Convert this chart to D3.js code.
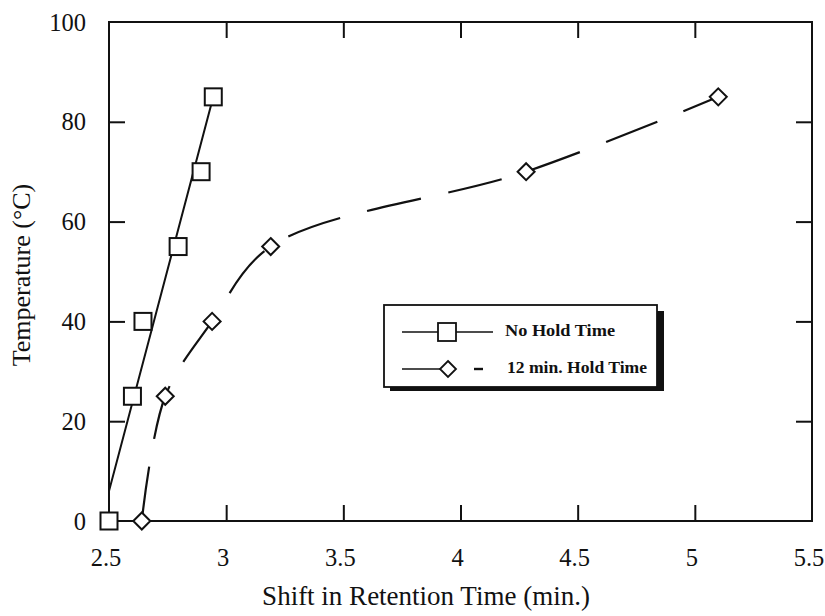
<!DOCTYPE html>
<html>
<head>
<meta charset="utf-8">
<script src="https://cdn.jsdelivr.net/npm/d3@7"></script>
<style>
  html, body { margin: 0; padding: 0; background: #fff; }
  svg text { font-family: "Liberation Serif", "Times New Roman", serif; fill: #111; }
</style>
</head>
<body>
<svg id="chart" width="825" height="616"></svg>
<script>
// Temperature vs. shift in retention time
const noHoldShift   = [2.5, 2.6, 2.645, 2.795, 2.893, 2.945];
const noHoldTemp    = [0, 25, 40, 55, 70, 85];
// straight fitted line drawn through the no-hold points
const noHoldFitShift = [2.5, 2.5, 2.945];
const noHoldFitTemp  = [0, 6, 85];

const holdShift = [2.64, 2.74, 2.94, 3.19, 4.28, 5.1];
const holdTemp  = [0, 25, 40, 55, 70, 85];

const xTickValues = [2.5, 3, 3.5, 4, 4.5, 5, 5.5];
const xTickLabels = ["2.5", "3", "3.5", "4", "4.5", "5", "5.5"];
const yTickValues = [0, 20, 40, 60, 80, 100];
const yTickLabels = ["0", "20", "40", "60", "80", "100"];

const legendLabels = ["No Hold Time", "12 min. Hold Time"];
const xTitle = "Shift in Retention Time (min.)";
const yTitle = "Temperature (\u00B0C)";

const svg = d3.select("#chart");
const m = { left: 109, right: 812, top: 22, bottom: 521 };

const x = d3.scaleLinear().domain([2.5, 5.5]).range([m.left, m.right]);
const y = d3.scaleLinear().domain([0, 100]).range([m.bottom, m.top]);

const ink = "#111";
const tickLen = 16;

// frame
svg.append("rect")
  .attr("x", m.left).attr("y", m.top)
  .attr("width", m.right - m.left).attr("height", m.bottom - m.top)
  .attr("fill", "none").attr("stroke", ink).attr("stroke-width", 2);

// inward ticks on all four sides (interior values only)
const innerX = xTickValues.slice(1, -1);
const innerY = yTickValues.slice(1, -1);
const axisBottom = d3.axisBottom(x).tickValues(innerX).tickSizeInner(-tickLen).tickSizeOuter(0).tickFormat("");
const axisTop = d3.axisTop(x).tickValues(innerX).tickSizeInner(-tickLen).tickSizeOuter(0).tickFormat("");
const axisLeft = d3.axisLeft(y).tickValues(innerY).tickSizeInner(-tickLen).tickSizeOuter(0).tickFormat("");
const axisRight = d3.axisRight(y).tickValues(innerY).tickSizeInner(-tickLen).tickSizeOuter(0).tickFormat("");

function styleAxis(g) {
  g.select(".domain").remove();
  g.selectAll(".tick line").attr("stroke", ink).attr("stroke-width", 2);
}
svg.append("g").attr("transform", `translate(0,${m.bottom})`).call(axisBottom).call(styleAxis);
svg.append("g").attr("transform", `translate(0,${m.top})`).call(axisTop).call(styleAxis);
svg.append("g").attr("transform", `translate(${m.left},0)`).call(axisLeft).call(styleAxis);
svg.append("g").attr("transform", `translate(${m.right},0)`).call(axisRight).call(styleAxis);

// tick labels
svg.append("g").selectAll("text").data(xTickValues).join("text")
  .attr("x", d => x(d) - 3).attr("y", 566)
  .attr("text-anchor", "middle").attr("font-size", 24.5)
  .text((d, i) => xTickLabels[i]);
svg.append("g").selectAll("text").data(yTickValues).join("text")
  .attr("x", 86).attr("y", d => y(d) + 8.5)
  .attr("text-anchor", "end").attr("font-size", 24.5)
  .text((d, i) => yTickLabels[i]);

// axis titles
svg.append("text").attr("x", 426).attr("y", 605)
  .attr("text-anchor", "middle").attr("font-size", 27).text(xTitle);
svg.append("text")
  .attr("transform", `translate(30,275) rotate(-90)`)
  .attr("text-anchor", "middle").attr("font-size", 26).text(yTitle);

// no-hold fitted solid line
const fitPts = noHoldFitShift.map((s, i) => [s, noHoldFitTemp[i]]);
svg.append("path")
  .attr("d", d3.line().x(d => x(d[0])).y(d => y(d[1]))(fitPts))
  .attr("fill", "none").attr("stroke", ink).attr("stroke-width", 2);

// 12-min hold dashed smooth curve
const holdPts = holdShift.map((s, i) => [s, holdTemp[i]]);
svg.append("path")
  .attr("d", d3.line().x(d => x(d[0])).y(d => y(d[1])).curve(d3.curveCatmullRom.alpha(0.5))(holdPts))
  .attr("fill", "none").attr("stroke", ink).attr("stroke-width", 2.2)
  .attr("stroke-dasharray", "55,28");

// markers
const sq = 17;
svg.append("g").selectAll("rect").data(noHoldShift.map((s, i) => [s, noHoldTemp[i]])).join("rect")
  .attr("x", d => x(d[0]) - sq / 2).attr("y", d => y(d[1]) - sq / 2)
  .attr("width", sq).attr("height", sq)
  .attr("fill", "#fff").attr("stroke", ink).attr("stroke-width", 2);

const dm = 8.5;
const diamond = (cx, cy, r) => `M${cx},${cy - r}L${cx + r},${cy}L${cx},${cy + r}L${cx - r},${cy}Z`;
svg.append("g").selectAll("path").data(holdPts).join("path")
  .attr("d", d => diamond(x(d[0]), y(d[1]), dm))
  .attr("fill", "#fff").attr("stroke", ink).attr("stroke-width", 2);

// legend box with drop shadow
const lg = svg.append("g");
lg.append("rect").attr("x", 390).attr("y", 311).attr("width", 274).attr("height", 80).attr("fill", ink);
lg.append("rect").attr("x", 384).attr("y", 305).attr("width", 273).attr("height", 82)
  .attr("fill", "#fff").attr("stroke", ink).attr("stroke-width", 1.8);

const r1 = 332, r2 = 369;
lg.append("line").attr("x1", 402).attr("x2", 493).attr("y1", r1).attr("y2", r1)
  .attr("stroke", ink).attr("stroke-width", 1.6);
lg.append("rect").attr("x", 447 - 9).attr("y", r1 - 9).attr("width", 18).attr("height", 18)
  .attr("fill", "#fff").attr("stroke", ink).attr("stroke-width", 1.8);
lg.append("text").attr("x", 505).attr("y", r1 + 4).attr("font-size", 16).attr("font-weight", "bold")
  .attr("textLength", 110).attr("lengthAdjust", "spacingAndGlyphs")
  .text(legendLabels[0]);

lg.append("line").attr("x1", 402).attr("x2", 448).attr("y1", r2).attr("y2", r2)
  .attr("stroke", ink).attr("stroke-width", 1.6);
lg.append("line").attr("x1", 474).attr("x2", 483).attr("y1", r2).attr("y2", r2)
  .attr("stroke", ink).attr("stroke-width", 2.4);
lg.append("path").attr("d", diamond(448, r2, 8))
  .attr("fill", "#fff").attr("stroke", ink).attr("stroke-width", 1.8);
lg.append("text").attr("x", 507).attr("y", r2 + 4).attr("font-size", 16).attr("font-weight", "bold")
  .attr("textLength", 140).attr("lengthAdjust", "spacingAndGlyphs")
  .text(legendLabels[1]);
</script>
</body>
</html>
